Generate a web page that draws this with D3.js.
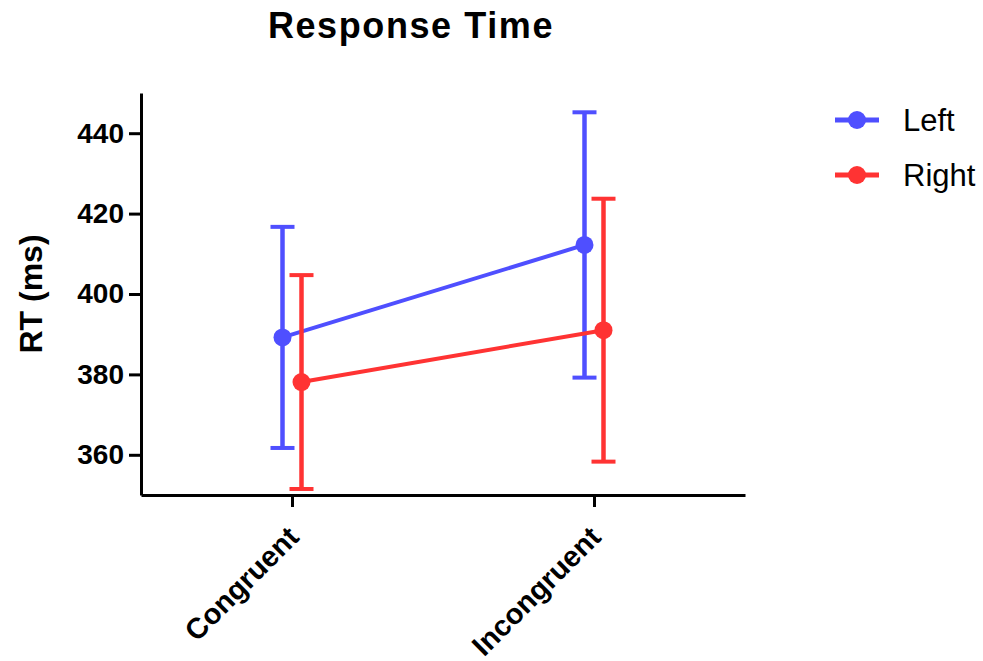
<!DOCTYPE html>
<html>
<head>
<meta charset="utf-8">
<script src="https://cdn.jsdelivr.net/npm/d3@7"></script>
<style>
  html, body { margin: 0; padding: 0; background: #fff; }
  svg { display: block; }
</style>
</head>
<body>
<svg id="chart" width="983" height="661"></svg>
<script>
const categories = ["Congruent", "Incongruent"];
const seriesNames = ["Left", "Right"];
const leftMeans = [389.2, 412.2];
const leftErrors = [27.5, 33.0];
const rightMeans = [378.1, 391.0];
const rightErrors = [26.6, 32.7];
const yTicks = [360, 380, 400, 420, 440];
const colors = { Left: "#4f4fff", Right: "#ff3333" };

const series = [
  { name: "Left", means: leftMeans, errors: leftErrors },
  { name: "Right", means: rightMeans, errors: rightErrors }
];

const svg = d3.select("#chart");
const font = "'Liberation Sans', Arial, Helvetica, sans-serif";

const x = d3.scalePoint().domain(categories).range([141, 745]).padding(0.5);
const dodge = d3.scalePoint().domain(seriesNames).range([-9.5, 9.5]);
const y = d3.scaleLinear().domain([350, 450]).range([495, 93]);

// Title
svg.append("text")
  .attr("x", 411).attr("y", 38)
  .attr("text-anchor", "middle")
  .style("font-family", font).style("font-weight", "bold")
  .style("font-size", "36px").style("letter-spacing", "1.6px")
  .text("Response Time");

// Y axis label
svg.append("text")
  .attr("transform", "translate(42,294) rotate(-90)")
  .attr("text-anchor", "middle")
  .style("font-family", font).style("font-weight", "bold")
  .style("font-size", "32px")
  .text("RT (ms)");

// Y axis
const yAxis = svg.append("g")
  .attr("transform", "translate(141,0)")
  .call(d3.axisLeft(y).tickValues(yTicks).tickSize(12).tickSizeOuter(0).tickPadding(5));
yAxis.select(".domain").attr("stroke", "#000").attr("stroke-width", 3);
yAxis.selectAll(".tick line").attr("stroke", "#000").attr("stroke-width", 3);
yAxis.selectAll(".tick text")
  .style("font-family", font).style("font-weight", "bold").style("font-size", "28px")
  .attr("fill", "#000");

// X axis
const xAxis = svg.append("g")
  .attr("transform", "translate(0,495)")
  .call(d3.axisBottom(x).tickSize(12).tickSizeOuter(0));
xAxis.select(".domain").attr("stroke", "#000").attr("stroke-width", 3);
xAxis.selectAll(".tick line").attr("stroke", "#000").attr("stroke-width", 3);
xAxis.selectAll(".tick text")
  .style("font-family", font).style("font-weight", "bold").style("font-size", "29px")
  .attr("fill", "#000")
  .attr("text-anchor", "end")
  .attr("dy", null)
  .attr("y", null)
  .attr("transform", "translate(8,44) rotate(-45)");

// Series
series.forEach(s => {
  const g = svg.append("g");
  const c = colors[s.name];
  const px = i => x(categories[i]) + dodge(s.name);
  const pts = s.means.map((m, i) => ({ i, m, e: s.errors[i] }));

  g.append("path")
    .datum(pts)
    .attr("fill", "none").attr("stroke", c).attr("stroke-width", 4)
    .attr("d", d3.line().x(d => px(d.i)).y(d => y(d.m)));

  g.selectAll(".eb").data(pts).join("line")
    .attr("x1", d => px(d.i)).attr("x2", d => px(d.i))
    .attr("y1", d => y(d.m - d.e)).attr("y2", d => y(d.m + d.e))
    .attr("stroke", c).attr("stroke-width", 4.5);

  ["top", "bot"].forEach(k => {
    g.selectAll(".cap-" + k).data(pts).join("line")
      .attr("x1", d => px(d.i) - 12).attr("x2", d => px(d.i) + 12)
      .attr("y1", d => y(k === "top" ? d.m + d.e : d.m - d.e))
      .attr("y2", d => y(k === "top" ? d.m + d.e : d.m - d.e))
      .attr("stroke", c).attr("stroke-width", 4);
  });

  g.selectAll("circle").data(pts).join("circle")
    .attr("cx", d => px(d.i)).attr("cy", d => y(d.m))
    .attr("r", 9).attr("fill", c);
});

// Legend
const legend = svg.append("g");
seriesNames.forEach((name, i) => {
  const ly = 120 + i * 55;
  legend.append("line")
    .attr("x1", 835).attr("x2", 879).attr("y1", ly).attr("y2", ly)
    .attr("stroke", colors[name]).attr("stroke-width", 5);
  legend.append("circle")
    .attr("cx", 857).attr("cy", ly).attr("r", 9).attr("fill", colors[name]);
  legend.append("text")
    .attr("x", 903).attr("y", ly + 11)
    .style("font-family", font).style("font-size", "31px")
    .attr("fill", "#000")
    .text(name);
});
</script>
</body>
</html>
